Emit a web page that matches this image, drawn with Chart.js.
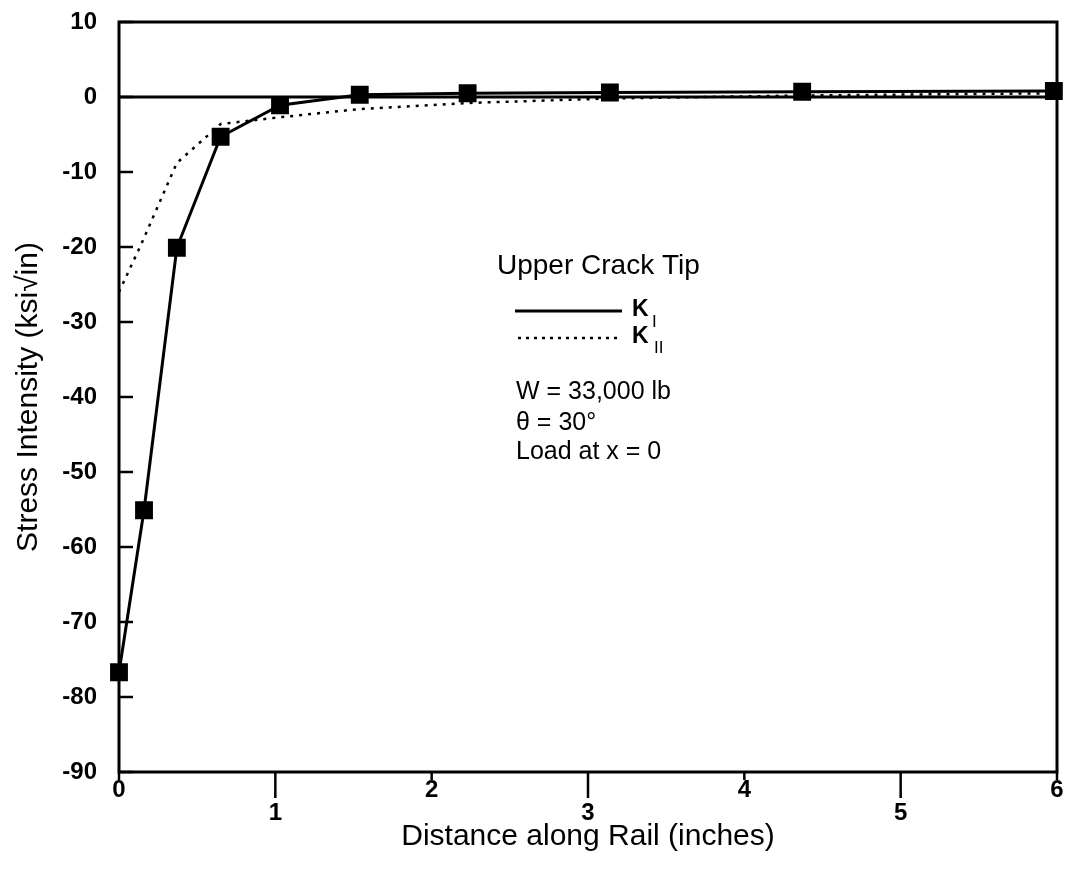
<!DOCTYPE html>
<html>
<head>
<meta charset="utf-8">
<script src="https://cdn.jsdelivr.net/npm/chart.js@4.4.1/dist/chart.umd.min.js"></script>
<style>
  html, body { margin: 0; padding: 0; background: #fff; }
  #wrap { width: 1074px; height: 871px; }
</style>
</head>
<body>
<div id="wrap"><canvas id="c" width="1074" height="871"></canvas></div>
<script>
// Distance along rail (inches) and stress intensity (ksi·√in)
const distanceKI = [0, 0.16, 0.37, 0.65, 1.03, 1.54, 2.23, 3.14, 4.37, 5.98];
const stressKI   = [-76.7, -55.1, -20.1, -5.3, -1.1, 0.3, 0.5, 0.6, 0.7, 0.8];

const distanceKII = [0, 0.145, 0.37, 0.65, 1.03, 1.54, 2.23, 3.14, 4.37, 5.98];
const stressKII   = [-26, -19.5, -8.8, -3.6, -2.7, -1.6, -0.8, -0.2, 0.2, 0.5];

const xTicks = [0, 1, 2, 3, 4, 5, 6];
const yTicks = [10, 0, -10, -20, -30, -40, -50, -60, -70, -80, -90];

const legendTitle = 'Upper Crack Tip';
const noteLines = ['W = 33,000 lb', 'θ = 30°', 'Load at x = 0'];

const FONT = '"Liberation Sans", Arial, sans-serif';

function pts(xs, ys) { return xs.map((x, i) => ({ x: x, y: ys[i] })); }

// Frame, inward tick marks, zero line and the annotation block
const framePlugin = {
  id: 'frame',
  beforeDatasetsDraw(chart) {
    const { ctx, chartArea: a, scales: { x, y } } = chart;
    ctx.save();
    ctx.strokeStyle = '#000';
    ctx.lineWidth = 3;
    ctx.strokeRect(a.left, a.top, a.right - a.left, a.bottom - a.top);
    // zero line
    const y0 = y.getPixelForValue(0);
    ctx.beginPath(); ctx.moveTo(a.left, y0); ctx.lineTo(a.right, y0); ctx.stroke();
    // y ticks pointing into the plot
    ctx.lineWidth = 2.5;
    yTicks.forEach(v => {
      const py = y.getPixelForValue(v);
      ctx.beginPath(); ctx.moveTo(a.left, py); ctx.lineTo(a.left + 14, py); ctx.stroke();
    });
    // x ticks below the axis, odd ones longer
    xTicks.forEach(v => {
      const px = x.getPixelForValue(v);
      const len = (v % 2 === 1) ? 26 : 8;
      ctx.beginPath(); ctx.moveTo(px, a.bottom); ctx.lineTo(px, a.bottom + len); ctx.stroke();
    });
    ctx.restore();
  },
  afterDraw(chart) {
    const { ctx } = chart;
    ctx.save();
    ctx.fillStyle = '#000';
    ctx.strokeStyle = '#000';
    ctx.textBaseline = 'middle';
    ctx.font = '28px ' + FONT;
    ctx.fillText(legendTitle, 497, 266);
    // K_I sample
    ctx.lineWidth = 3;
    ctx.setLineDash([]);
    ctx.beginPath(); ctx.moveTo(515, 311); ctx.lineTo(622, 311); ctx.stroke();
    // K_II sample
    ctx.lineWidth = 2.5;
    ctx.setLineDash([3, 5]);
    ctx.beginPath(); ctx.moveTo(518, 338); ctx.lineTo(622, 338); ctx.stroke();
    ctx.setLineDash([]);
    ctx.font = 'bold 23px ' + FONT;
    ctx.fillText('K', 632, 310);
    ctx.fillText('K', 632, 337);
    ctx.font = '17px ' + FONT;
    ctx.fillText('I', 652, 322);
    ctx.fillText('II', 654, 348);
    ctx.font = '25px ' + FONT;
    ctx.fillText(noteLines[0], 516, 392);
    ctx.fillText(noteLines[1], 516, 423);
    ctx.fillText(noteLines[2], 516, 452);
    ctx.restore();
  }
};

new Chart(document.getElementById('c'), {
  type: 'scatter',
  data: {
    datasets: [
      {
        label: 'K I',
        data: pts(distanceKI, stressKI),
        showLine: true,
        clip: false,
        borderColor: '#000',
        backgroundColor: '#000',
        borderWidth: 3,
        pointStyle: 'rect',
        pointRadius: 10.5,
        pointHoverRadius: 10.5,
        tension: 0
      },
      {
        label: 'K II',
        data: pts(distanceKII, stressKII),
        showLine: true,
        clip: false,
        borderColor: '#000',
        borderWidth: 2.5,
        borderDash: [3, 6],
        pointRadius: 0,
        tension: 0
      }
    ]
  },
  options: {
    responsive: false,
    animation: false,
    layout: { padding: { top: 22, right: 17, left: 0, bottom: 0 } },
    plugins: { legend: { display: false }, tooltip: { enabled: false } },
    scales: {
      x: {
        type: 'linear',
        min: 0, max: 6,
        afterBuildTicks(s) { s.ticks = xTicks.map(v => ({ value: v })); },
        afterFit(s) { s.height = 99; s.paddingLeft = 0; s.paddingRight = 0; },
        grid: { display: false, drawTicks: false },
        border: { display: false },
        ticks: {
          padding: 7,
          color: '#000',
          font: { family: FONT, size: 24, weight: 'bold', lineHeight: 0.95 },
          callback: v => (v % 2 === 1) ? ['', String(v)] : String(v)
        },
        title: {
          display: true,
          text: 'Distance along Rail (inches)',
          color: '#000',
          font: { family: FONT, size: 30 },
          padding: { top: 0, bottom: 16 }
        }
      },
      y: {
        type: 'linear',
        min: -90, max: 10,
        afterBuildTicks(s) { s.ticks = yTicks.map(v => ({ value: v })); },
        afterFit(s) { s.width = 119; s.paddingTop = 0; s.paddingBottom = 0; },
        grid: { display: false, drawTicks: false },
        border: { display: false },
        ticks: {
          padding: 22,
          color: '#000',
          font: { family: FONT, size: 24, weight: 'bold' }
        },
        title: {
          display: true,
          text: 'Stress Intensity (ksi√in)',
          color: '#000',
          font: { family: FONT, size: 30 },
          padding: { top: 11, bottom: 0 }
        }
      }
    }
  },
  plugins: [framePlugin]
});
</script>
</body>
</html>
